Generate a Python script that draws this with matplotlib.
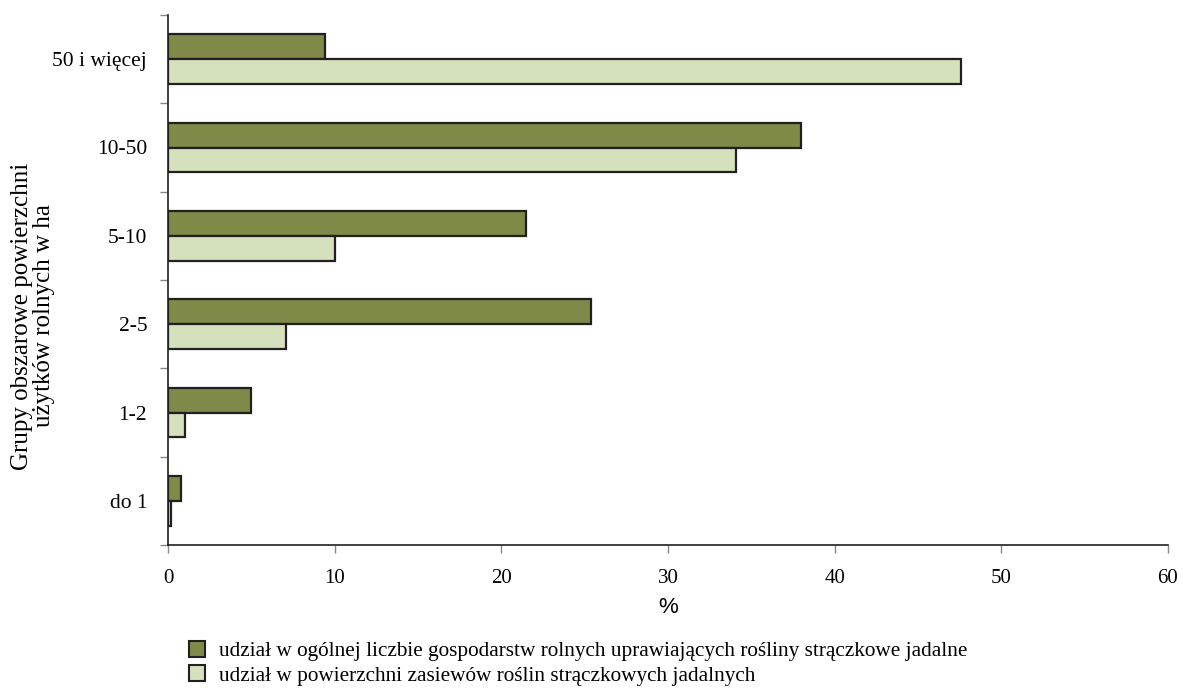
import numpy as np
import matplotlib.pyplot as plt
from matplotlib.patches import Patch

plt.rcParams['font.family'] = ['Liberation Serif', 'DejaVu Serif']

categories = ["do 1", "1-2", "2-5", "5-10", "10-50", "50 i więcej"]
farms_share = [0.8, 5.0, 25.4, 21.5, 38.0, 9.4]
area_share = [0.15, 1.0, 7.1, 10.0, 34.1, 47.6]
labels = ["udział w ogólnej liczbie gospodarstw rolnych uprawiających rośliny strączkowe jadalne",
          "udział w powierzchni zasiewów roślin strączkowych jadalnych"]
xticks = [0, 10, 20, 30, 40, 50, 60]

dark = "#7f8a48"
light = "#d5e0bd"
edge = "#231f20"

fig = plt.figure(figsize=(11.83, 6.91), dpi=100)
ax = fig.add_axes([168 / 1183, 1 - 545 / 691, 1000 / 1183, 530 / 691])

y = np.arange(len(categories))
h = 0.28
ax.barh(y + h / 2, farms_share, height=h, color=dark, edgecolor=edge, linewidth=1.6)
ax.barh(y - h / 2, area_share, height=h, color=light, edgecolor=edge, linewidth=1.6)

ax.set_xlim(0, 60)
ax.set_ylim(-0.5, len(categories) - 0.5)
ax.set_xticks(xticks)
ax.set_xticklabels([str(v) for v in xticks], fontsize=15)
ax.set_yticks(y)
ax.set_yticklabels(categories, fontsize=15.5)
ax.tick_params(axis='y', which='major', length=0, pad=15)
ax.set_yticks(np.arange(-0.5, len(categories)), minor=True)
ax.tick_params(axis='y', which='minor', length=6, color='#888888', width=1)
ax.tick_params(axis='x', length=6, color='#888888', width=1, pad=11)

for s in ['top', 'right']:
    ax.spines[s].set_visible(False)
for s in ['left', 'bottom']:
    ax.spines[s].set_linewidth(1.2)
    ax.spines[s].set_color('#231f20')

ax.set_xlabel("%", fontsize=16, family=['Liberation Sans', 'DejaVu Sans'], labelpad=7)
fig.text(33 / 1183, 1 - 316 / 691, "Grupy obszarowe powierzchni\nużytków rolnych w ha",
         rotation=90, ha='center', va='center', fontsize=18, linespacing=0.95)

handles = [Patch(facecolor=dark, edgecolor=edge, linewidth=1.5),
           Patch(facecolor=light, edgecolor=edge, linewidth=1.5)]
fig.legend(handles, labels, loc='upper left', bbox_to_anchor=(189 / 1183, 1 - 641 / 691),
           frameon=False, fontsize=15.3, handlelength=0.75, handleheight=0.75,
           handletextpad=0.65, labelspacing=0.2, borderaxespad=0, borderpad=0)

fig.savefig("out.png", dpi=100)
